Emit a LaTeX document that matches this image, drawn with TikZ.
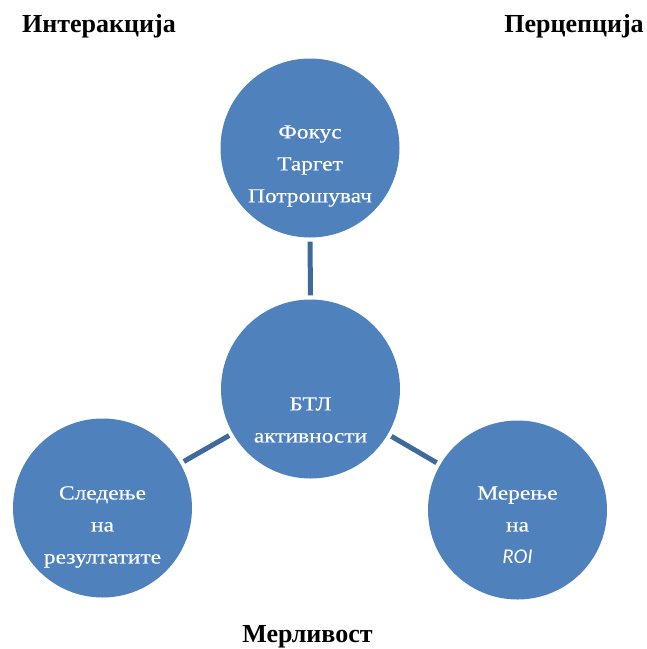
\documentclass[tikz,border=0pt]{standalone}
\usepackage{fontspec}
\setmainfont{Liberation Serif}
\newfontfamily\circfont{Liberation Serif}[FakeStretch=1.17,FakeBold=0.4]
\newfontfamily\roifont{Carlito}
\usetikzlibrary{positioning}
\definecolor{bubble}{HTML}{4F81BD}
\definecolor{linkc}{HTML}{3E6A9C}
\begin{document}
\begin{tikzpicture}[x=1pt,y=-1pt,
  bubble/.style={circle,fill=bubble,draw=none,minimum size=179pt,inner sep=0pt},
  bubtext/.style={text=white,align=center,font=\circfont\fontsize{20}{32}\selectfont,inner sep=0pt},
  title/.style={font=\bfseries\fontsize{26}{28}\selectfont,anchor=base,inner sep=0pt},
  link/.style={draw=linkc,line width=5pt,shorten <=4pt,shorten >=4pt}]
\useasboundingbox (0,0) rectangle (647,649);
\node[bubble] (top) at (310,148) {};
\node[bubble] (mid) at (310.5,389) {};
\node[bubble] (left) at (102.5,508) {};
\node[bubble] (right) at (517.5,510) {};
\node[bubtext] (toptext) at (310,166) {Фокус\\Таргет\\Потрошувач};
\node[bubtext] (midtext) at (310.5,420) {БТЛ\\активности};
\node[bubtext] (lefttext) at (102.5,527) {Следење\\на\\резултатите};
\node[bubtext] (righttext) at (517.5,525) {Мерење\\на\\{\roifont\itshape\fontsize{21}{32}\selectfont ROI}};
\draw[link] (top) -- (mid);
\draw[link] (mid) -- (left);
\draw[link] (mid) -- (right);
\node[title] (t1) at (99,32) {Интеракција};
\node[title] (t2) at (574,32) {Перцепција};
\node[title] (t3) at (307.5,642) {Мерливост};
\end{tikzpicture}
\end{document}
